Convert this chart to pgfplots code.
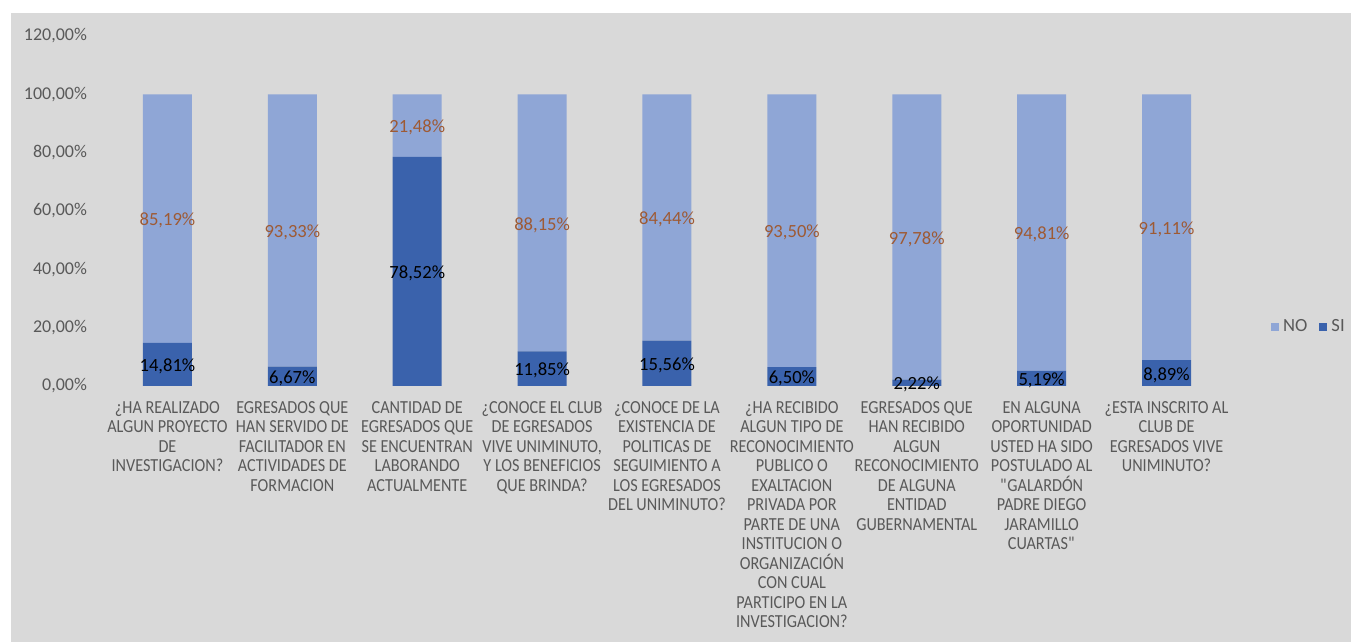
\documentclass[border=0pt]{standalone}
\usepackage{fontspec}
\setmainfont{Carlito}
\newfontfamily\catfont[FakeStretch=0.88]{Carlito}
\usepackage{pgfplots}
\usepackage{pgfplotstable}
\pgfplotsset{compat=1.18}

\definecolor{noBar}{HTML}{8FA6D6}
\definecolor{siBar}{HTML}{3A62AC}
\definecolor{noLab}{HTML}{9E5A34}
\definecolor{axisText}{HTML}{595959}
\definecolor{chartBG}{HTML}{D9D9D9}

% si = % answering SI, no = % answering NO
\pgfplotstableread{
x si no
0 14.81 85.19
1 6.67 93.33
2 78.52 21.48
3 11.85 88.15
4 15.56 84.44
5 6.50 93.50
6 2.22 97.78
7 5.19 94.81
8 8.89 91.11
}\datatable

\pgfplotsset{
  common/.style={
    at={(0,0)}, anchor=south west,
    scale only axis, width=562pt, height=175pt,
    xmin=-0.5, xmax=8.5, ymin=0, ymax=120,
  },
}

\begin{document}
\begin{tikzpicture}
\useasboundingbox (-52.5pt,-128pt) rectangle (623pt,193pt);
\fill[white] (-52.5pt,-128pt) rectangle (623pt,193pt);
\fill[chartBG] (-47pt,-128pt) rectangle (623pt,186.5pt);

\begin{axis}[
    common,
    ybar stacked,
    bar width=24.5pt,
    axis line style={draw=none},
    major tick length=0pt,
    ytick={0,20,...,120},
    yticklabels={{0,00\%},{20,00\%},{40,00\%},{60,00\%},{80,00\%},{100,00\%},{120,00\%}},
    yticklabel style={font=\fontsize{9}{10}\selectfont, text=axisText, xshift=-5.5pt},
    xtick={0,...,8},
    xticklabels={
      {¿HA REALIZADO\\ALGUN PROYECTO\\DE\\INVESTIGACION?},
      {EGRESADOS QUE\\HAN SERVIDO DE\\FACILITADOR EN\\ACTIVIDADES DE\\FORMACION},
      {CANTIDAD DE\\EGRESADOS QUE\\SE ENCUENTRAN\\LABORANDO\\ACTUALMENTE},
      {¿CONOCE EL CLUB\\DE EGRESADOS\\VIVE UNIMINUTO,\\Y LOS BENEFICIOS\\QUE BRINDA?},
      {¿CONOCE DE LA\\EXISTENCIA DE\\POLITICAS DE\\SEGUIMIENTO A\\LOS EGRESADOS\\DEL UNIMINUTO?},
      {¿HA RECIBIDO\\ALGUN TIPO DE\\RECONOCIMIENTO\\PUBLICO O\\EXALTACION\\PRIVADA POR\\PARTE DE UNA\\INSTITUCION O\\ORGANIZACIÓN\\CON CUAL\\PARTICIPO EN LA\\INVESTIGACION?},
      {EGRESADOS QUE\\HAN RECIBIDO\\ALGUN\\RECONOCIMIENTO\\DE ALGUNA\\ENTIDAD\\GUBERNAMENTAL},
      {EN ALGUNA\\OPORTUNIDAD\\USTED HA SIDO\\POSTULADO AL\\\textquotedbl GALARDÓN\\PADRE DIEGO\\JARAMILLO\\CUARTAS\textquotedbl},
      {¿ESTA INSCRITO AL\\CLUB DE\\EGRESADOS VIVE\\UNIMINUTO?},
    },
    xticklabel style={font=\catfont\fontsize{9.2}{9.75}\selectfont, text=axisText,
      align=center, anchor=north, yshift=-4.2pt},
    legend image code/.code={\fill[#1] (0pt,-2pt) rectangle (4pt,2pt);},
    legend style={at={(1.072,0.169)}, anchor=center, draw=none, fill=none,
      legend columns=2, font=\fontsize{9.3}{10}\selectfont, text=axisText,
      /tikz/every even column/.append style={column sep=4pt}},
    reverse legend,
]
\addplot[fill=siBar, draw=none] table[x=x, y=si] \datatable;
\addplot[fill=noBar, draw=none] table[x=x, y=no] \datatable;
\legend{SI, NO}
\end{axis}

% data labels, centred in each segment
\begin{axis}[
    common,
    hide axis,
    nodes near coords={\pgfmathprintnumber[fixed, fixed zerofill, precision=2, use comma, assume math mode=true]{\pgfplotspointmeta}\%},
    nodes near coords align={center},
    point meta=explicit,
]
\addplot[draw=none, mark=none,
    every node near coord/.append style={font=\fontsize{9.3}{10}\selectfont, text=black, inner sep=0pt, yshift=-1pt}]
    table[x=x, y expr=\thisrow{si}/2, meta=si] \datatable;
\addplot[draw=none, mark=none,
    every node near coord/.append style={font=\fontsize{9.3}{10}\selectfont, text=noLab, inner sep=0pt, yshift=-1pt}]
    table[x=x, y expr=\thisrow{si}+\thisrow{no}/2, meta=no] \datatable;
\end{axis}
\end{tikzpicture}
\end{document}
